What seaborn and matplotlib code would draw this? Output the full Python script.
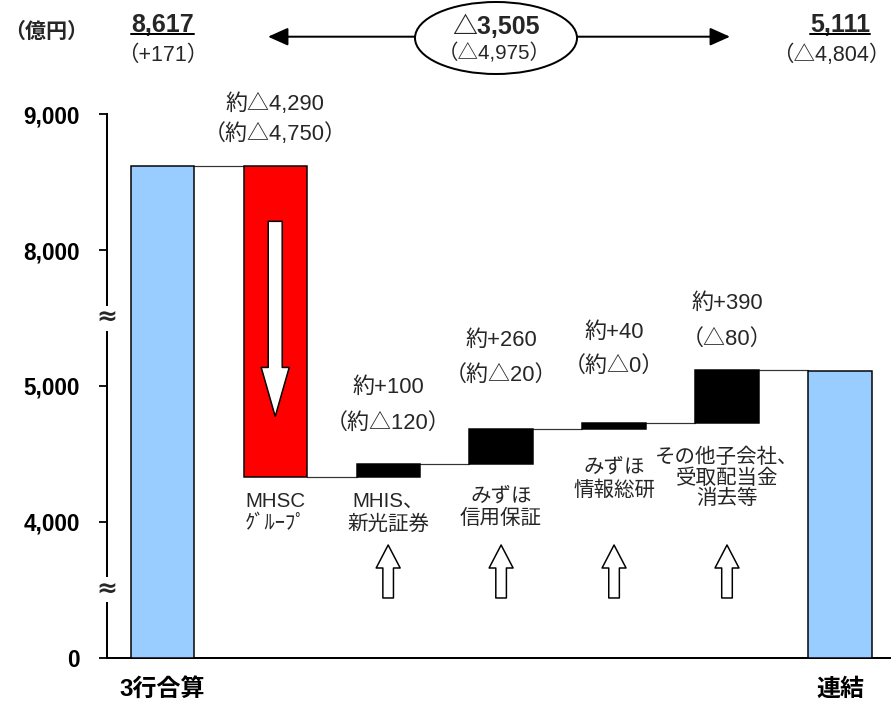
import numpy as np
import pandas as pd
import matplotlib
matplotlib.use("Agg")
import matplotlib.pyplot as plt
import seaborn as sns
from matplotlib.patches import Ellipse
from matplotlib.lines import Line2D
from matplotlib import transforms

# ---- data ----
categories = ["3行合算", "MHSC\nｸﾞﾙｰﾌﾟ", "MHIS、\n新光証券", "みずほ\n信用保証",
              "みずほ\n情報総研", "その他子会社、\n受取配当金\n消去等", "連結"]
start_total = 8617
steps = [-4290, 100, 260, 40, 390]
end_total = 5111
step_labels = ["約△4,290", "約+100", "約+260", "約+40", "約+390"]
step_prev_labels = ["（約△4,750）", "（約△120）", "（約△20）", "（約△0）", "（△80）"]
y_ticks = [0, 4000, 5000, 8000, 9000]
y_ticklabels = ["0", "4,000", "5,000", "8,000", "9,000"]
x_ticklabels = ["3行合算", "", "", "", "", "", "連結"]
axis_cuts = [(500, 3500), (5500, 7500)]   # value ranges left out of the broken axis
start_label = "8,617"
start_change = "（+171）"
end_label = "5,111"
end_change = "（△4,804）"
diff_label = "△3,505"
diff_prev = "（△4,975）"
unit_label = "（億円）"

# ---- layout / style ----
W, H, DPI = 891, 702, 72
bar_colors = ["#99CCFF", "#FF0000", "#000000", "#000000", "#000000", "#000000", "#99CCFF"]
bar_width = 0.56
top_offsets = [62, 76, 88, 91, 67]      # px above bar top, first line
second_offsets = [32, 40, 53, 57, 31]   # px above bar top, second line
cat_offsets = [15, 14, 23, 29, 25]      # px below bar bottom
cat_spacing = [1.2, 1.3, 1.2, 1.25, 1.05]

# waterfall geometry
levels = start_total + np.cumsum(steps)
prev = np.concatenate([[start_total], levels[:-1]])
bottoms = [0] + list(np.minimum(prev, levels)) + [0]
heights = [start_total] + list(np.abs(steps)) + [end_total]
df = pd.DataFrame({"cat": categories, "bottom": bottoms, "height": heights})

sns.set_theme(style="white")
plt.rcParams["font.family"] = ["Liberation Sans", "Noto Sans CJK JP", "DejaVu Sans"]

fig = plt.figure(figsize=(W / DPI, H / DPI), dpi=DPI)
ax = fig.add_axes([106.7 / W, 44.3 / H, (W - 106.7) / W, 543.4 / H])

# broken y axis: the cut value ranges are squeezed out
bp, tp = [0.0], [0.0]
removed = 0.0
for lo, hi in axis_cuts:
    bp += [lo, hi]
    tp += [lo - removed, lo - removed + 1e-3]
    removed += hi - lo
bp.append(9000.0)
tp.append(9000.0 - removed)
bp, tp = np.array(bp), np.array(tp)


def fwd(v):
    return np.interp(v, bp, tp)


def inv(t):
    return np.interp(t, tp, bp)


ax.set_yscale("function", functions=(fwd, inv))

sns.barplot(data=df, x="cat", y="height", order=categories, bottom=df["bottom"].values,
            color="black", saturation=1, errorbar=None, width=bar_width,
            edgecolor="black", linewidth=1.5, ax=ax, zorder=3)
for patch, c in zip(ax.patches, bar_colors):
    patch.set_facecolor(c)

# connector lines
conn = [start_total] + list(levels)
for i, lv in enumerate(conn):
    ax.plot([i + bar_width / 2, i + 1 - bar_width / 2], [lv, lv], color="#333333", lw=1.2, zorder=2)

ax.set_xlim(-0.492, 6.452)
ax.set_ylim(0, 9000)
ax.set_yticks(y_ticks)
ax.set_yticklabels(y_ticklabels, fontsize=22.5, fontweight="bold")
ax.set_xticks(range(len(categories)))
ax.set_xticklabels(x_ticklabels, fontsize=24, fontweight="bold")
ax.tick_params(axis="y", left=True, length=8, width=1.8, pad=19, colors="black")
ax.tick_params(axis="x", length=0, pad=20, colors="black")
ax.set_xlabel("")
ax.set_ylabel("")
for s in ["top", "right"]:
    ax.spines[s].set_visible(False)
for s in ["left", "bottom"]:
    ax.spines[s].set_color("black")
    ax.spines[s].set_linewidth(2)
ax.grid(False)

# axis break marks
for lo, hi in axis_cuts:
    ax.text(0, lo, "≈", transform=transforms.blended_transform_factory(ax.transAxes, ax.transData),
            ha="center", va="center", fontsize=25, fontweight="bold", family="DejaVu Sans",
            bbox=dict(facecolor="white", edgecolor="none", pad=0.5), zorder=5, clip_on=False)

# step value labels
for k in range(len(steps)):
    i = k + 1
    top = max(prev[k], levels[k])
    ax.annotate(step_labels[k], xy=(i, top), xytext=(0, top_offsets[k]), textcoords="offset pixels",
                ha="center", va="center", fontsize=22)
    ax.annotate(step_prev_labels[k], xy=(i, top), xytext=(0, second_offsets[k]), textcoords="offset pixels",
                ha="center", va="center", fontsize=22)
    bot = min(prev[k], levels[k])
    ax.annotate(categories[i], xy=(i, bot), xytext=(0, -cat_offsets[k]), textcoords="offset pixels",
                ha="center", va="top", fontsize=20.5, linespacing=cat_spacing[k])

# down arrow inside the red bar
red_top, red_bot = prev[0], levels[0]
ax.annotate("", xy=(1, red_bot), xycoords=transforms.offset_copy(ax.transData, fig=fig, y=61, units="dots"),
            xytext=(1, red_top), textcoords=transforms.offset_copy(ax.transData, fig=fig, y=-55, units="dots"),
            arrowprops=dict(arrowstyle="simple,head_length=2.45,head_width=1.4,tail_width=0.7",
                            fc="white", ec="black", lw=1.5, mutation_scale=20, shrinkA=0, shrinkB=0),
            zorder=6)

# hollow up arrows under the increase bars
for i in range(2, 6):
    ax.annotate("", xy=(i, 0.2074), xycoords=ax.get_xaxis_transform(),
                xytext=(i, 0.1099), textcoords=ax.get_xaxis_transform(),
                arrowprops=dict(arrowstyle="simple,head_length=1.15,head_width=1.2,tail_width=0.53",
                                fc="white", ec="black", lw=1.5, mutation_scale=20, shrinkA=0, shrinkB=0))

# ---- header annotations ----
fp = "figure pixels"
ax.annotate(unit_label, xy=(46, H - 31.7), xycoords=fp, ha="center", va="center",
            fontsize=21, fontweight="bold", annotation_clip=False)
t_start = ax.annotate(start_label, xy=(0, H - 31.7), xycoords=("data", fp), ha="center", va="baseline",
                      fontsize=25, fontweight="bold", annotation_clip=False)
ax.annotate(start_change, xy=(0, H - 55), xycoords=("data", fp), ha="center", va="center",
            fontsize=21.5, annotation_clip=False)
t_end = ax.annotate(end_label, xy=(6, H - 31.7), xycoords=("data", fp), ha="center", va="baseline",
                    fontsize=25, fontweight="bold", annotation_clip=False)
ax.annotate(end_change, xy=(890, H - 55), xycoords=fp, ha="right", va="center",
            fontsize=21.5, annotation_clip=False)

ell = Ellipse((496 / W, (H - 38) / H), 162 / W, 72 / H, transform=fig.transFigure,
              facecolor="white", edgecolor="black", lw=2)
fig.add_artist(ell)
fig.text(496 / W, (H - 34) / H, diff_label, ha="center", va="baseline", fontsize=25, fontweight="bold")
fig.text(494 / W, (H - 53.3) / H, diff_prev, ha="center", va="center", fontsize=20.5)

arrow_kw = dict(arrowstyle="-|>,head_length=0.85,head_width=0.38", color="black", lw=2,
                mutation_scale=20, shrinkA=0, shrinkB=0)
ax.annotate("", xy=(268, H - 36.7), xycoords=fp, xytext=(415, H - 36.7), textcoords=fp,
            arrowprops=arrow_kw, annotation_clip=False)
ax.annotate("", xy=(730, H - 36.7), xycoords=fp, xytext=(577, H - 36.7), textcoords=fp,
            arrowprops=arrow_kw, annotation_clip=False)

# underlines for the totals
fig.canvas.draw()
for t in (t_start, t_end):
    bb = t.get_window_extent()
    fig.add_artist(Line2D([bb.x0, bb.x1], [H - 33.8, H - 33.8], color="black", lw=2,
                          transform=transforms.IdentityTransform()))

fig.savefig("out.png", dpi=DPI, facecolor="white")
